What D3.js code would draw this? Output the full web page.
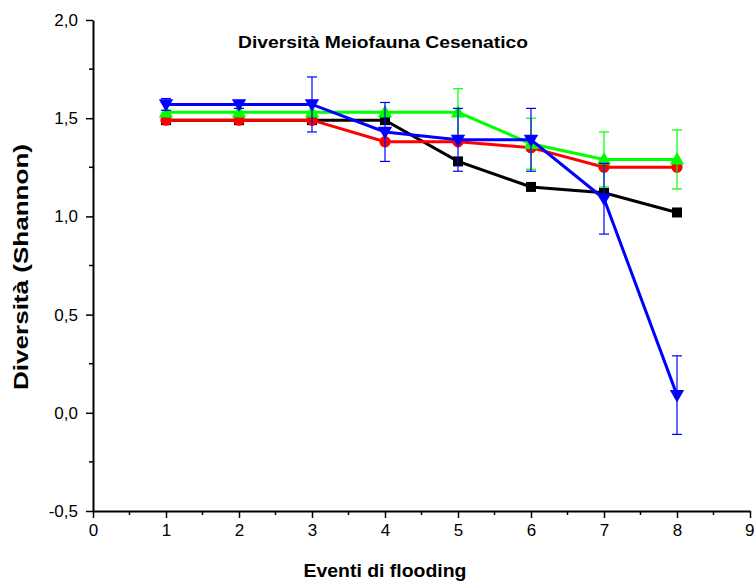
<!DOCTYPE html>
<html>
<head>
<meta charset="utf-8">
<script src="https://cdn.jsdelivr.net/npm/d3@7"></script>
<style>
  body { margin: 0; background: #fff; }
  text { font-family: "Liberation Sans", Arial, sans-serif; }
</style>
</head>
<body>
<svg id="js-svg" width="754" height="581"></svg>
<script>
// eventi di flooding
const eventi = [1, 2, 3, 4, 5, 6, 7, 8];

// Shannon diversity per series
const nero = [1.49, 1.49, 1.49, 1.49, 1.28, 1.15, 1.12, 1.02];
const rosso = [1.49, 1.49, 1.49, 1.38, 1.38, 1.35, 1.25, 1.25];
const verde = [1.53, 1.53, 1.53, 1.53, 1.53, 1.37, 1.29, 1.29];
const blu = [1.57, 1.57, 1.57, 1.43, 1.39, 1.39, 1.09, 0.09];

// error bars (+/-)
const errNero = [0, 0, 0, 0, 0, 0, 0, 0];
const errRosso = [0, 0, 0, 0, 0, 0, 0, 0];
const errVerde = [0, 0, 0, 0, 0.12, 0.13, 0.14, 0.15];
const errBlu = [0.03, 0.02, 0.14, 0.15, 0.16, 0.16, 0.18, 0.2];

const xTicks = [0, 1, 2, 3, 4, 5, 6, 7, 8, 9];
const yTicks = [-0.5, 0, 0.5, 1, 1.5, 2];

const series = [
  { vals: nero, err: errNero, color: "#000000", shape: "square" },
  { vals: rosso, err: errRosso, color: "#ff0000", shape: "circle" },
  { vals: verde, err: errVerde, color: "#00ff00", shape: "up" },
  { vals: blu, err: errBlu, color: "#0000ff", shape: "down" },
];

const svg = d3.select("#js-svg");
const xscale = d3.scaleLinear().domain([0, 9]).range([93, 750]);
const yscale = d3.scaleLinear().domain([-0.5, 2]).range([511, 20]);
const fmt = (d) => d3.format(".1f")(d).replace(".", ",").replace("−", "-");

// x axis
const xAxis = svg.append("g").attr("transform", "translate(0,511)");
xAxis.call(d3.axisBottom(xscale).tickValues(xTicks).tickFormat(d3.format("d")).tickSizeInner(7).tickSizeOuter(0).tickPadding(6));
xAxis.append("g").selectAll("line")
  .data(d3.range(0.5, 9, 1))
  .join("line")
  .attr("x1", (d) => xscale(d)).attr("x2", (d) => xscale(d))
  .attr("y1", 0).attr("y2", 4)
  .attr("stroke", "#000").attr("stroke-width", 1.5);

// y axis
const yAxis = svg.append("g").attr("transform", "translate(93,0)");
yAxis.call(d3.axisLeft(yscale).tickValues(yTicks).tickFormat(fmt).tickSizeInner(7).tickSizeOuter(0).tickPadding(8));
yAxis.append("g").selectAll("line")
  .data(d3.range(-0.25, 2, 0.5))
  .join("line")
  .attr("y1", (d) => yscale(d)).attr("y2", (d) => yscale(d))
  .attr("x1", 0).attr("x2", -4)
  .attr("stroke", "#000").attr("stroke-width", 1.5);

[xAxis, yAxis].forEach((ax) => {
  ax.attr("font-size", null).attr("font-family", null);
  ax.select(".domain").attr("stroke-width", 2);
  ax.selectAll(".tick line").attr("stroke-width", 1.5);
  ax.selectAll(".tick text")
    .style("font-size", "17px")
    .style("font-family", "'Liberation Sans', Arial, sans-serif")
    .attr("fill", "#000");
});
// last x label sits on the right edge
xAxis.selectAll(".tick text").filter((d) => d === 9).attr("text-anchor", "end").attr("dx", 4);

// titles
svg.append("text").attr("x", 383).attr("y", 48).attr("text-anchor", "middle")
  .attr("font-size", 17).attr("font-weight", "bold")
  .attr("textLength", 290).attr("lengthAdjust", "spacingAndGlyphs")
  .text("Diversità Meiofauna Cesenatico");
svg.append("text").attr("x", 385).attr("y", 577).attr("text-anchor", "middle")
  .attr("font-size", 19).attr("font-weight", "bold")
  .attr("textLength", 163).attr("lengthAdjust", "spacingAndGlyphs")
  .text("Eventi di flooding");
svg.append("text").attr("transform", "translate(28,267) rotate(-90)").attr("text-anchor", "middle")
  .attr("font-size", 20).attr("font-weight", "bold")
  .attr("textLength", 246).attr("lengthAdjust", "spacingAndGlyphs")
  .text("Diversità (Shannon)");

const symbols = {
  square: d3.symbol(d3.symbolSquare, 100),
  circle: d3.symbol(d3.symbolCircle, 100),
  up: d3.symbol(d3.symbolTriangle, 90),
  down: d3.symbol(d3.symbolTriangle, 90),
};

const line = d3.line().x((d) => xscale(d[0])).y((d) => yscale(d[1]));

series.forEach((s) => {
  const g = svg.append("g");
  const pts = eventi.map((e, i) => [e, s.vals[i], s.err[i]]);

  // error bars
  const eb = g.append("g").selectAll("g").data(pts.filter((p) => p[2] > 0)).join("g")
    .attr("stroke", s.color).attr("stroke-width", 1.2);
  eb.append("line")
    .attr("x1", (d) => xscale(d[0])).attr("x2", (d) => xscale(d[0]))
    .attr("y1", (d) => yscale(d[1] + d[2])).attr("y2", (d) => yscale(d[1] - d[2]));
  [1, -1].forEach((sg) => {
    eb.append("line")
      .attr("x1", (d) => xscale(d[0]) - 5).attr("x2", (d) => xscale(d[0]) + 5)
      .attr("y1", (d) => yscale(d[1] + sg * d[2])).attr("y2", (d) => yscale(d[1] + sg * d[2]));
  });

  g.append("path").datum(pts).attr("d", line)
    .attr("fill", "none").attr("stroke", s.color).attr("stroke-width", 3);

  g.selectAll(".mk").data(pts).join("path")
    .attr("class", "mk")
    .attr("d", symbols[s.shape])
    .attr("transform", (d) => `translate(${xscale(d[0])},${yscale(d[1]) + (s.shape === "up" ? 1 : s.shape === "down" ? -1 : 0)})` + (s.shape === "down" ? " rotate(180)" : ""))
    .attr("fill", s.color);
});
</script>
</body>
</html>
